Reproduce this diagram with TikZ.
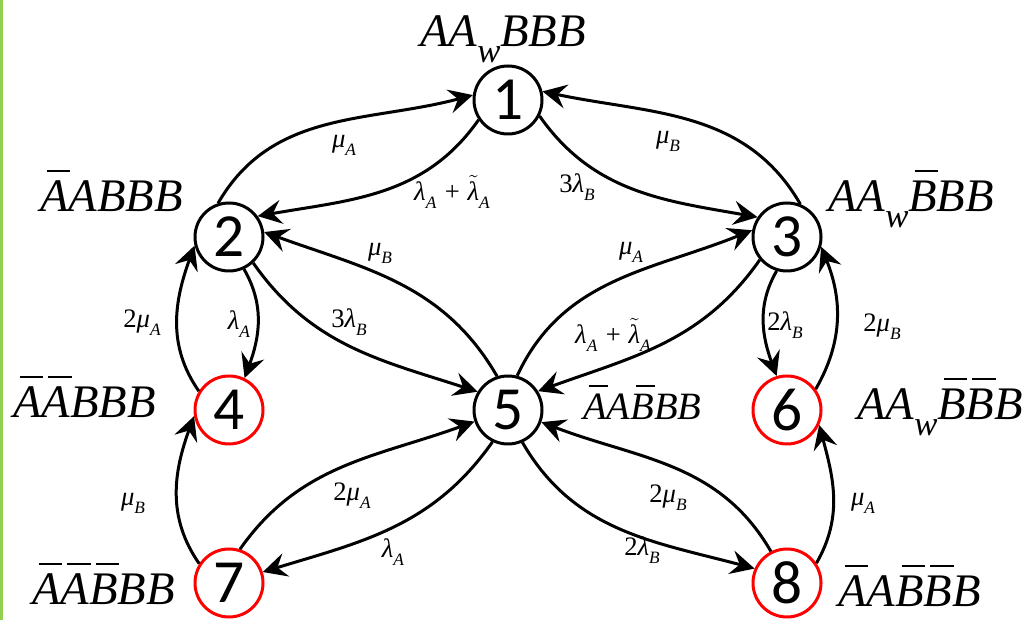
\documentclass[tikz,border=0pt]{standalone}
\usepackage{fontspec}
\usepackage{amsmath}
\setmainfont{Liberation Serif}
\newfontfamily\digitfont{Carlito}
\usetikzlibrary{arrows.meta}
\definecolor{framegreen}{RGB}{146,208,80}
\newcommand\obar[1]{\rlap{\hspace{0.14em}\rule[0.86em]{0.5em}{0.05em}}#1}
\newcommand\wsub{\raisebox{-0.33em}{\fontsize{26}{26}\selectfont w}}
\newcommand\esub[1]{\raisebox{-0.3em}{\fontsize{13}{13}\selectfont #1}}
\newcommand\tlam{\ensuremath{\tilde{\mbox{λ}}}}
\tikzset{
  stnode/.style={circle, draw=black, line width=2.25pt, minimum size=51pt, inner sep=0pt,
    font=\digitfont\fontsize{46}{46}\selectfont},
  rednode/.style={stnode, draw=red},
  arr/.style={line width=2.25pt, -{Stealth[length=18pt,width=18pt,inset=6.5pt]}},
  elab/.style={font=\itshape\fontsize{20}{20}\selectfont, inner sep=0pt},
  slab/.style={font=\itshape\fontsize{35}{35}\selectfont, inner sep=0pt, anchor=base west},
}
\begin{document}
\begin{tikzpicture}[x=0.75pt,y=0.75pt]
\useasboundingbox (0,0) rectangle (1031,620);
\fill[framegreen] (0,0) rectangle (2.5,620);

% states
\node[stnode]  (1) at (508,520) {1};
\node[stnode]  (2) at (229,383) {2};
\node[stnode]  (3) at (787,383) {3};
\node[rednode] (4) at (229,210) {4};
\node[stnode]  (5) at (508,210) {5};
\node[rednode] (6) at (787,210) {6};
\node[rednode] (7) at (229,37) {7};
\node[rednode] (8) at (787,37) {8};

% state labels
\node[slab] (s1) at (420,573) {AA\wsub BBB};
\node[slab] (s2) at (40,408) {\obar{A}ABBB};
\node[slab] (s3) at (828,408) {AA\wsub\obar{B}BB};
\node[slab] (s4) at (13,202) {\obar{A}\obar{A}BBB};
\node[slab, font=\itshape\fontsize{29}{29}\selectfont] (s5) at (583,200) {\obar{A}A\obar{B}BB};
\node[slab] (s6) at (857,200) {AA\wsub\obar{B}\obar{B}B};
\node[slab] (s7) at (32,15) {\obar{A}\obar{A}\obar{B}BB};
\node[slab] (s8) at (838,13) {\obar{A}A\obar{B}\obar{B}B};

% transitions
\draw[arr] (2.108) to[out=60,in=195] (1.172);
\draw[arr] (1.214) to[out=235,in=10] (2.36);
\draw[arr] (3.68) to[out=120,in=348] (1.14);
\draw[arr] (1.333) to[out=305,in=170] (3.146);
\draw[arr] (5.108) to[out=120,in=340] (2.8);
\draw[arr] (2.313) to[out=305,in=162] (5.149);
\draw[arr] (5.75) to[out=65,in=202] (3.169);
\draw[arr] (3.220) to[out=235,in=20] (5.32);
\draw[arr] (4.148) to[out=125,in=250] (2.194);
\draw[arr] (2.295) to[out=300,in=70] (4.64);
\draw[arr] (7.147) to[out=125,in=250] (4.190);
\draw[arr] (7.72) to[out=55,in=200] (5.199);
\draw[arr] (5.244) to[out=235,in=17] (7.18);
\draw[arr] (8.117) to[out=120,in=339] (5.340);
\draw[arr] (5.294) to[out=300,in=165] (8.156);
\draw[arr] (3.253) to[out=240,in=110] (6.107);
\draw[arr] (6.36) to[out=60,in=292] (3.344);
\draw[arr] (8.34) to[out=60,in=285] (6.335);

% rates
\node[elab] (l1) at (344,475) {μ\esub{A}};
\node[elab] (l2) at (452,428) {λ\esub{A} + \tlam\esub{A}};
\node[elab] (l3) at (668,479) {μ\esub{B}};
\node[elab] (l4) at (577,433) {{\upshape 3}λ\esub{B}};
\node[elab] (l5) at (380,367) {μ\esub{B}};
\node[elab] (l6) at (349,298) {{\upshape 3}λ\esub{B}};
\node[elab] (l7) at (631,368) {μ\esub{A}};
\node[elab] (l8) at (613,285) {λ\esub{A} + \tlam\esub{A}};
\node[elab] (l9) at (142,297) {{\upshape 2}μ\esub{A}};
\node[elab] (l10) at (239,296) {λ\esub{A}};
\node[elab] (l11) at (133,117) {μ\esub{B}};
\node[elab] (l12) at (352,124) {{\upshape 2}μ\esub{A}};
\node[elab] (l13) at (393,68) {λ\esub{A}};
\node[elab] (l14) at (668,122) {{\upshape 2}μ\esub{B}};
\node[elab] (l15) at (642,70) {{\upshape 2}λ\esub{B}};
\node[elab] (l16) at (785,295) {{\upshape 2}λ\esub{B}};
\node[elab] (l17) at (882,293) {{\upshape 2}μ\esub{B}};
\node[elab] (l18) at (863,117) {μ\esub{A}};
\end{tikzpicture}
\end{document}
